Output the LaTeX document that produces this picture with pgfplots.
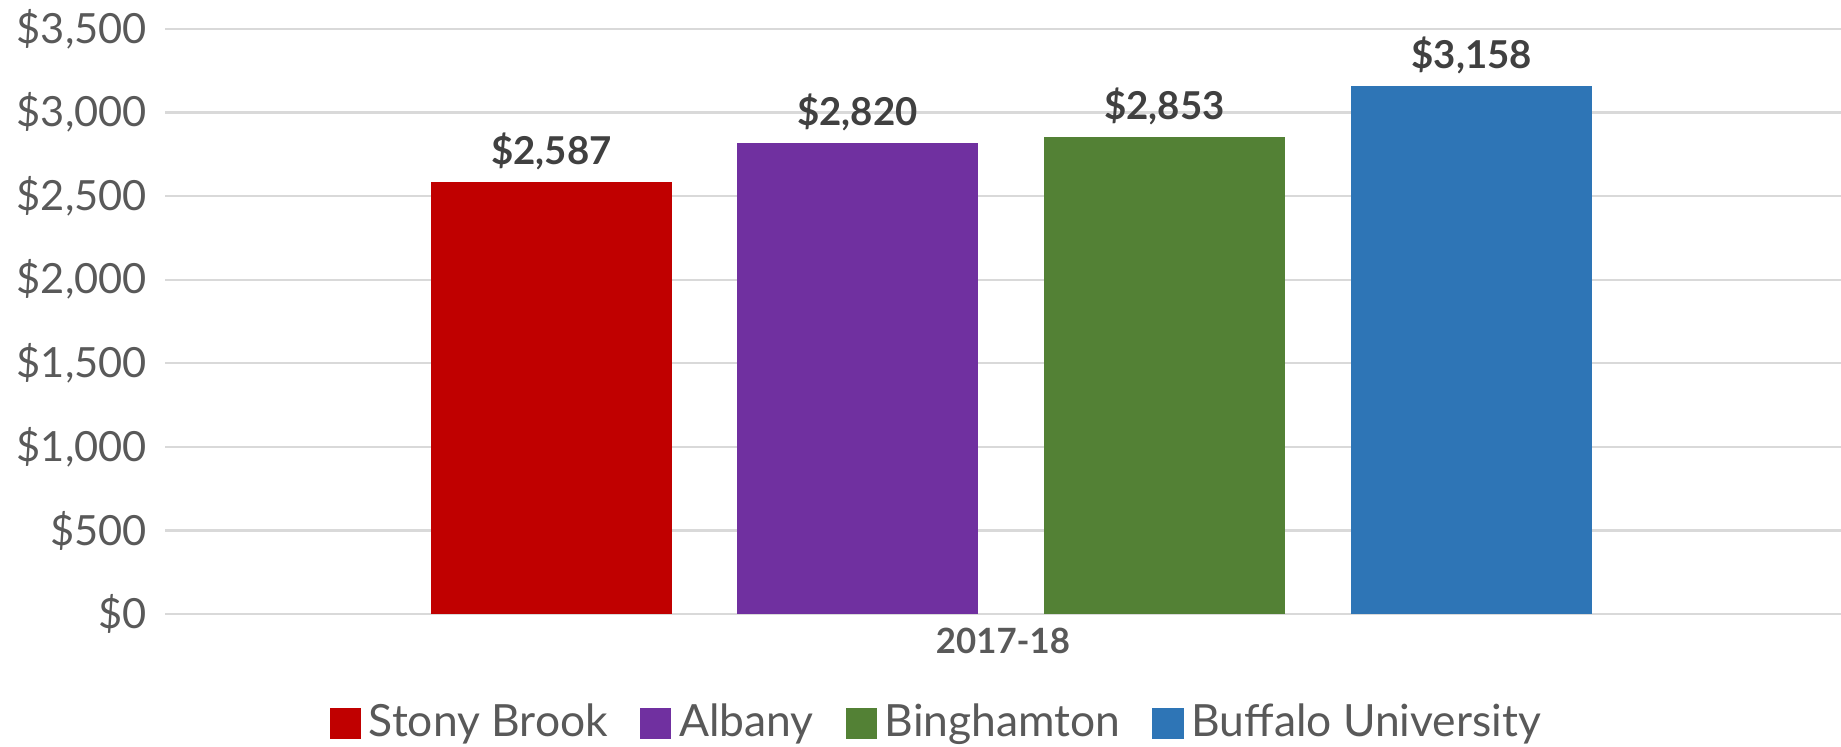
\documentclass[border=0pt]{standalone}
\usepackage{fontspec}
\setmainfont{Lato}
\usepackage{pgfplots}
\pgfplotsset{compat=1.18}

\definecolor{sbred}{HTML}{C00000}
\definecolor{albpurple}{HTML}{7030A0}
\definecolor{binggreen}{HTML}{538135}
\definecolor{bufblue}{HTML}{2E75B6}
\definecolor{txtgray}{HTML}{595959}
\definecolor{lblgray}{HTML}{404040}
\definecolor{gridgray}{HTML}{D9D9D9}

\begin{document}
\begin{tikzpicture}
\begin{axis}[
    scale only axis,
    width=419pt, height=146.25pt,
    at={(41.25pt,-153.5pt)}, anchor=south west,
    xmin=-0.5, xmax=0.5,
    ymin=0, ymax=3500,
    ytick={0,500,...,3500},
    xtick={0}, xticklabels={2017-18},
    axis line style={draw=none},
    major tick style={draw=none},
    ymajorgrids,
    major grid style={draw=gridgray, line width=0.6pt},
    /pgf/number format/.cd, fixed, precision=0, 1000 sep={,}, assume math mode=true,
    /pgfplots/.cd,
    yticklabel={\$\pgfmathprintnumber{\tick}},
    yticklabel style={font=\fontsize{10.4}{12}\selectfont, text=txtgray, xshift=-1pt},
    xticklabel style={font=\fontsize{8.7}{10}\selectfont\bfseries, text=txtgray, yshift=0pt},
    bar width=0.1438,
    nodes near coords={\$\pgfmathprintnumber{\pgfplotspointmeta}},
    every node near coord/.append style={font=\fontsize{9.6}{11}\selectfont\bfseries, text=lblgray, yshift=-0.5pt},
    legend columns=4,
    legend style={draw=none, at={(0.462,-0.187)}, anchor=center,
        font=\fontsize{11.1}{13}\selectfont, text=txtgray,
        /tikz/every even column/.append style={column sep=6pt}},
    legend cell align=left,
    legend image code/.code={\fill[#1] (0pt,-3.9pt) rectangle (7.8pt,3.9pt);},
]
\addplot[ybar, fill=sbred, draw=none] coordinates {(-0.2694,2587)};
\addlegendentry{Stony Brook}
\addplot[ybar, fill=albpurple, draw=none] coordinates {(-0.0868,2820)};
\addlegendentry{Albany}
\addplot[ybar, fill=binggreen, draw=none] coordinates {(0.0964,2853)};
\addlegendentry{Binghamton}
\addplot[ybar, fill=bufblue, draw=none] coordinates {(0.2796,3158)};
\addlegendentry{Buffalo University}
\end{axis}
\pgfresetboundingbox
\useasboundingbox (0,0) rectangle (460.25pt,-186.75pt);
\end{tikzpicture}
\end{document}
